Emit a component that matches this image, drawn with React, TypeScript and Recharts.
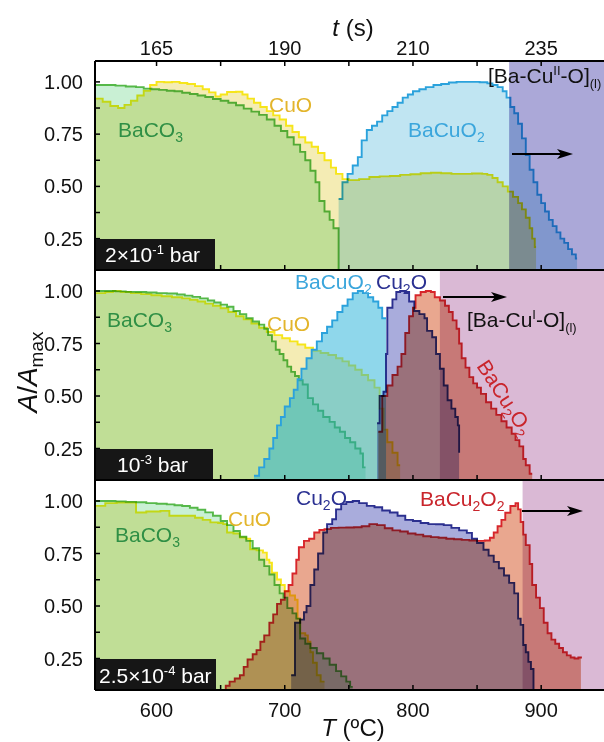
import React from 'react';
import { ComposedChart, Area, XAxis, YAxis, ReferenceArea } from 'recharts';

const FONT = '"Liberation Sans", Arial, Helvetica, sans-serif';
const W = 604;
const H = 742;

const T_DOMAIN: [number, number] = [552, 949];
const Y_DOMAIN: [number, number] = [0.1, 1.1];
const X_TICKS = [600, 650, 700, 750, 800, 850, 900];
const X_LABELS: Record<number, string> = { 600: '600', 700: '700', 800: '800', 900: '900' };
const TOP_LABELS: Record<number, string> = { 600: '165', 700: '190', 800: '210', 900: '235' };
const Y_TICKS = [0.25, 0.375, 0.5, 0.625, 0.75, 0.875, 1.0];
const Y_LABELS: Record<string, string> = { '0.25': '0.25', '0.5': '0.50', '0.75': '0.75', '1': '1.00' };

// ---------- Panel 1 : 2x10^-1 bar ----------
const P1_BACO3: [number, number][] = [
  [552, 0.985], [560, 0.985], [568, 0.982], [576, 0.978], [584, 0.975], [590, 0.968], [596, 0.965],
  [602, 0.962], [608, 0.958], [614, 0.955], [620, 0.948], [626, 0.942], [632, 0.935], [638, 0.928],
  [644, 0.918], [650, 0.91], [656, 0.9], [662, 0.888], [668, 0.872], [674, 0.858], [680, 0.842],
  [686, 0.82], [692, 0.79], [697, 0.765], [702, 0.735], [707, 0.7], [712, 0.665], [716, 0.625],
  [720, 0.575], [724, 0.52], [727, 0.43], [731, 0.38], [735, 0.34], [738, 0.3], [742, 0.1],
];
const P1_CUO: [number, number][] = [
  [552, 0.92], [558, 0.905], [564, 0.885], [570, 0.875], [575, 0.89], [580, 0.91], [585, 0.935],
  [590, 0.958], [595, 0.985], [600, 1.0], [606, 0.998], [612, 1.0], [618, 0.995], [624, 0.99],
  [630, 0.98], [636, 0.965], [641, 0.95], [646, 0.93], [650, 0.94], [655, 0.952], [662, 0.953],
  [667, 0.94], [671, 0.92], [676, 0.9], [681, 0.88], [686, 0.86], [691, 0.84], [696, 0.82],
  [701, 0.79], [706, 0.76], [711, 0.735], [716, 0.71], [721, 0.69], [726, 0.66], [731, 0.625],
  [736, 0.59], [740, 0.56], [745, 0.535], [750, 0.53], [758, 0.535], [766, 0.545], [774, 0.548],
  [782, 0.55], [790, 0.555], [798, 0.558], [806, 0.563], [814, 0.565], [822, 0.563], [830, 0.56],
  [838, 0.56], [846, 0.562], [854, 0.56], [858, 0.555], [862, 0.54], [866, 0.52], [870, 0.5],
  [874, 0.475], [878, 0.45], [882, 0.42], [885, 0.39], [888, 0.35], [891, 0.3], [893, 0.25],
  [895, 0.21], [896, 0.21],
];
const P1_BACUO2: [number, number][] = [
  [742, 0.44], [745, 0.52], [749, 0.56], [753, 0.6], [757, 0.64], [760, 0.72], [764, 0.77],
  [768, 0.79], [772, 0.81], [776, 0.84], [780, 0.86], [784, 0.88], [788, 0.9], [792, 0.925],
  [796, 0.94], [800, 0.955], [805, 0.965], [810, 0.975], [816, 0.985], [822, 0.99], [828, 0.997],
  [834, 1.0], [840, 1.0], [846, 1.0], [852, 0.998], [858, 0.993], [862, 0.985], [866, 0.975],
  [870, 0.955], [873, 0.925], [876, 0.88], [879, 0.85], [882, 0.8], [885, 0.73], [888, 0.65],
  [891, 0.58], [894, 0.52], [897, 0.46], [900, 0.42], [903, 0.38], [906, 0.34], [909, 0.31],
  [912, 0.28], [915, 0.25], [918, 0.23], [921, 0.2], [924, 0.175], [927, 0.155], [928, 0.155],
];
const P1_LIQUID: [number, number] = [875, 949];

// ---------- Panel 2 : 10^-3 bar ----------
const P2_BACO3: [number, number][] = [
  [552, 1.0], [560, 1.0], [568, 0.998], [576, 0.996], [584, 0.995], [592, 0.993], [600, 0.99],
  [608, 0.988], [616, 0.983], [622, 0.978], [628, 0.972], [634, 0.965], [640, 0.955], [645, 0.945],
  [650, 0.935], [655, 0.925], [660, 0.905], [665, 0.89], [670, 0.87], [675, 0.855], [680, 0.84],
  [684, 0.82], [687, 0.79], [690, 0.76], [693, 0.72], [696, 0.7], [699, 0.67], [702, 0.64],
  [705, 0.615], [708, 0.595], [711, 0.575], [714, 0.555], [718, 0.49], [722, 0.46], [726, 0.43],
  [730, 0.4], [735, 0.377], [739, 0.35], [743, 0.33], [747, 0.3], [751, 0.28], [755, 0.25],
  [759, 0.226], [761, 0.16], [763, 0.16],
];
const P2_CUO: [number, number][] = [
  [552, 0.99], [560, 0.995], [566, 1.0], [572, 0.995], [580, 0.99], [588, 0.985], [596, 0.98],
  [604, 0.975], [612, 0.97], [620, 0.965], [626, 0.958], [632, 0.95], [638, 0.94], [644, 0.93],
  [650, 0.918], [656, 0.9], [662, 0.88], [668, 0.865], [674, 0.845], [680, 0.825], [686, 0.805],
  [692, 0.79], [698, 0.775], [704, 0.76], [710, 0.745], [716, 0.73], [722, 0.715], [728, 0.705],
  [734, 0.695], [740, 0.68], [745, 0.665], [750, 0.645], [755, 0.625], [760, 0.6], [765, 0.575],
  [770, 0.54], [774, 0.44], [777, 0.34], [780, 0.28], [784, 0.23], [788, 0.17], [790, 0.17],
];
const P2_BACUO2: [number, number][] = [
  [676, 0.12], [680, 0.16], [684, 0.2], [688, 0.25], [691, 0.3], [694, 0.36], [697, 0.4],
  [700, 0.45], [704, 0.49], [707, 0.53], [710, 0.58], [713, 0.63], [717, 0.68], [721, 0.72],
  [725, 0.76], [729, 0.8], [733, 0.83], [737, 0.86], [741, 0.9], [745, 0.93], [749, 0.96],
  [753, 0.99], [757, 1.0], [761, 0.99], [765, 0.97], [769, 0.95], [773, 0.92], [776, 0.87],
  [779, 0.87],
];
const P2_CU2O: [number, number][] = [
  [772, 0.37], [774, 0.5], [777, 0.52], [779, 0.7], [780, 0.92], [784, 0.96], [787, 0.995],
  [790, 1.0], [794, 0.995], [797, 0.95], [801, 0.905], [805, 0.89], [809, 0.87], [811, 0.81],
  [815, 0.78], [818, 0.7], [821, 0.63], [824, 0.55], [827, 0.48], [830, 0.44], [833, 0.4],
  [835, 0.36], [836, 0.23],
];
const P2_BACU2O2: [number, number][] = [
  [773, 0.33], [776, 0.5], [780, 0.55], [784, 0.6], [788, 0.64], [791, 0.7], [794, 0.8],
  [797, 0.88], [800, 0.92], [802, 0.98], [806, 0.995], [810, 1.0], [814, 0.995], [817, 0.97],
  [821, 0.955], [825, 0.93], [828, 0.9], [831, 0.86], [834, 0.82], [836, 0.75], [838, 0.68],
  [841, 0.635], [844, 0.59], [847, 0.56], [850, 0.54], [853, 0.51], [857, 0.47], [861, 0.44],
  [865, 0.41], [869, 0.38], [873, 0.35], [877, 0.32], [880, 0.29], [883, 0.26], [886, 0.2],
  [888, 0.17], [891, 0.13], [893, 0.13],
];
const P2_LIQUID: [number, number] = [821, 949];

// ---------- Panel 3 : 2.5x10^-4 bar ----------
const P3_BACO3: [number, number][] = [
  [552, 1.0], [560, 1.0], [568, 0.998], [576, 0.996], [584, 0.994], [592, 0.99], [600, 0.987],
  [608, 0.984], [614, 0.98], [620, 0.976], [626, 0.968], [632, 0.958], [638, 0.946], [644, 0.93],
  [650, 0.905], [655, 0.885], [660, 0.857], [665, 0.83], [670, 0.81], [675, 0.775], [680, 0.72],
  [684, 0.69], [688, 0.65], [692, 0.6], [696, 0.56], [699, 0.54], [702, 0.49], [706, 0.465],
  [709, 0.44], [712, 0.345], [716, 0.32], [720, 0.3], [725, 0.275], [730, 0.25], [735, 0.22],
  [740, 0.19], [744, 0.165], [748, 0.14], [751, 0.115], [753, 0.115],
];
const P3_CUO: [number, number][] = [
  [552, 0.977], [560, 0.99], [569, 0.993], [577, 0.993], [584, 0.945], [592, 0.95], [603, 0.953],
  [610, 0.93], [618, 0.93], [624, 0.93], [630, 0.92], [636, 0.91], [642, 0.898], [648, 0.895],
  [652, 0.89], [655, 0.85], [660, 0.845], [665, 0.826], [670, 0.82], [673, 0.77], [678, 0.765],
  [683, 0.754], [686, 0.72], [688, 0.706], [690, 0.658], [694, 0.626], [697, 0.6], [700, 0.57],
  [704, 0.55], [708, 0.53], [710, 0.44], [712, 0.37], [716, 0.36], [718, 0.33], [720, 0.28],
  [722, 0.23], [725, 0.17], [728, 0.14], [731, 0.14],
];
const P3_CU2O: [number, number][] = [
  [705, 0.17], [708, 0.42], [712, 0.435], [715, 0.47], [717, 0.5], [720, 0.6], [723, 0.674],
  [726, 0.75], [730, 0.85], [733, 0.89], [737, 0.913], [740, 0.96], [744, 0.985], [748, 0.995],
  [753, 1.0], [758, 0.99], [764, 0.977], [770, 0.97], [776, 0.955], [782, 0.945], [788, 0.93],
  [794, 0.91], [800, 0.905], [806, 0.895], [812, 0.89], [818, 0.889], [824, 0.885], [830, 0.872],
  [836, 0.86], [842, 0.848], [846, 0.82], [850, 0.8], [855, 0.768], [859, 0.74], [863, 0.71],
  [867, 0.68], [871, 0.645], [875, 0.61], [879, 0.56], [882, 0.44], [884, 0.41], [886, 0.314],
  [888, 0.28], [890, 0.234], [892, 0.2], [894, 0.1],
];
const P3_BACU2O2: [number, number][] = [
  [650, 0.1], [654, 0.12], [657, 0.14], [661, 0.155], [665, 0.17], [668, 0.21], [671, 0.245],
  [675, 0.27], [678, 0.29], [681, 0.33], [684, 0.36], [688, 0.42], [691, 0.46], [694, 0.51],
  [697, 0.53], [700, 0.57], [703, 0.6], [706, 0.655], [709, 0.72], [711, 0.78], [715, 0.81],
  [719, 0.82], [723, 0.85], [727, 0.862], [731, 0.866], [736, 0.872], [742, 0.873], [748, 0.874],
  [754, 0.875], [760, 0.88], [766, 0.89], [772, 0.885], [778, 0.87], [784, 0.86], [790, 0.855],
  [796, 0.845], [802, 0.84], [808, 0.832], [814, 0.828], [820, 0.825], [826, 0.82], [832, 0.818],
  [838, 0.815], [844, 0.812], [850, 0.81], [856, 0.812], [860, 0.825], [863, 0.85], [866, 0.88],
  [869, 0.91], [872, 0.944], [876, 0.976], [880, 0.99], [882, 0.96], [884, 0.9], [886, 0.84],
  [888, 0.79], [891, 0.7], [893, 0.6], [896, 0.54], [899, 0.49], [902, 0.42], [905, 0.37],
  [908, 0.34], [911, 0.32], [914, 0.3], [917, 0.28], [920, 0.265], [923, 0.255], [926, 0.25],
  [929, 0.255], [931, 0.25],
];
const P3_LIQUID: [number, number] = [885.5, 949];

// ---------- colours ----------
const C = {
  baco3: { stroke: '#55b848', fill: '#c9f0d4', text: '#2f8f45' },
  cuo: { stroke: '#f6e51a', fill: '#f4ecb4', text: '#e3b52c' },
  bacuo2: { stroke: '#2ba2dc', fill: '#c0e5f2', text: '#3ba6dc' },
  cu2o: { stroke: '#2b2f8f', fill: '#a9acdc', text: '#2b3192' },
  bacu2o2: { stroke: '#d7262b', fill: '#e9a78f', text: '#c9252c' },
  liq1: '#aba8d8',
  liq2: '#dab9d5',
};

const toRows = (pts: [number, number][]) => pts.map(([T, v]) => ({ T, v }));

type SeriesDef = {
  key: string;
  pts: [number, number][];
  stroke: string;
  fill: string;
  opacity?: number;
  multiply?: boolean;
};

const renderBottomTick = (labels: boolean) => (p: any) => {
  const { x, y, payload } = p;
  const lab = labels ? X_LABELS[payload.value] : undefined;
  return (
    <g>
      <line x1={x} x2={x} y1={y} y2={y - 5} stroke="#000" strokeWidth={1.5} />
      {lab ? (
        <text x={x} y={y + 27} textAnchor="middle" fontSize={20} fontFamily={FONT} fill="#111">
          {lab}
        </text>
      ) : null}
    </g>
  );
};

const renderTopTick = (p: any) => {
  const { x, y, payload } = p;
  const lab = TOP_LABELS[payload.value];
  return (
    <g>
      <line x1={x} x2={x} y1={y} y2={y + 5} stroke="#000" strokeWidth={1.5} />
      {lab ? (
        <text x={x} y={y - 6} textAnchor="middle" fontSize={20} fontFamily={FONT} fill="#111">
          {lab}
        </text>
      ) : null}
    </g>
  );
};

const renderLeftTick = (p: any) => {
  const { x, y, payload } = p;
  const lab = Y_LABELS[String(payload.value)];
  return (
    <g>
      <line x1={x} x2={x + 5} y1={y} y2={y} stroke="#000" strokeWidth={1.5} />
      {lab ? (
        <text x={x - 12} y={y + 7} textAnchor="end" fontSize={20} fontFamily={FONT} fill="#111">
          {lab}
        </text>
      ) : null}
    </g>
  );
};

function Panel(props: {
  top: number;
  bottom: number;
  series: SeriesDef[];
  liquid: [number, number];
  liquidColor: string;
  topAxis?: boolean;
  bottomLabels?: boolean;
}) {
  const { top, bottom, series, liquid, liquidColor, topAxis, bottomLabels } = props;
  return (
    <div style={{ position: 'absolute', left: 0, top: 0, width: W, height: H }}>
      <ComposedChart
        width={W}
        height={H}
        margin={{ top: topAxis ? top - 1 : top, bottom: H - bottom - 1, left: 0, right: 0 }}
      >
        <XAxis
          xAxisId="b"
          type="number"
          dataKey="T"
          domain={T_DOMAIN}
          allowDataOverflow
          ticks={X_TICKS}
          interval={0}
          orientation="bottom"
          height={1}
          tickSize={0}
          tickMargin={0}
          tickLine={false}
          axisLine={{ stroke: '#000', strokeWidth: 2 }}
          tick={renderBottomTick(!!bottomLabels)}
        />
        {topAxis ? (
          <XAxis
            xAxisId="t"
            type="number"
            dataKey="T"
            domain={T_DOMAIN}
            allowDataOverflow
            ticks={X_TICKS}
            interval={0}
            orientation="top"
            height={1}
            tickSize={0}
            tickMargin={0}
            tickLine={false}
            axisLine={{ stroke: '#000', strokeWidth: 2 }}
            tick={renderTopTick}
          />
        ) : null}
        <YAxis
          type="number"
          domain={Y_DOMAIN}
          allowDataOverflow
          ticks={Y_TICKS}
          interval={0}
          width={95}
          tickSize={0}
          tickMargin={0}
          tickLine={false}
          axisLine={{ stroke: '#000', strokeWidth: 2 }}
          tick={renderLeftTick}
        />
        <ReferenceArea
          xAxisId="b"
          x1={liquid[0]}
          x2={liquid[1]}
          y1={Y_DOMAIN[0]}
          y2={Y_DOMAIN[1]}
          fill={liquidColor}
          fillOpacity={1}
          stroke="none"
          className="mb"
          ifOverflow="hidden"
        />
        {series.map((s) => (
          <Area
            key={s.key}
            xAxisId="b"
            data={toRows(s.pts)}
            dataKey="v"
            type="stepAfter"
            baseValue={Y_DOMAIN[0]}
            stroke={s.stroke}
            strokeWidth={1.9}
            fill={s.fill}
            fillOpacity={s.opacity ?? 1}
            className={s.multiply === false ? '' : 'mb'}
            isAnimationActive={false}
            dot={false}
            activeDot={false}
          />
        ))}
      </ComposedChart>
    </div>
  );
}

const Arrow = ({ x1, x2, y }: { x1: number; x2: number; y: number }) => (
  <g>
    <line x1={x1} x2={x2 - 6} y1={y} y2={y} stroke="#000" strokeWidth={2} />
    <polygon points={`${x2},${y} ${x2 - 16},${y - 5} ${x2 - 12},${y} ${x2 - 16},${y + 5}`} fill="#000" />
  </g>
);

export default function App() {
  const p1: SeriesDef[] = [
    { key: 'baco3', pts: P1_BACO3, stroke: C.baco3.stroke, fill: C.baco3.fill },
    { key: 'cuo', pts: P1_CUO, stroke: C.cuo.stroke, fill: C.cuo.fill },
    { key: 'bacuo2', pts: P1_BACUO2, stroke: C.bacuo2.stroke, fill: C.bacuo2.fill },
  ];
  const p2: SeriesDef[] = [
    { key: 'baco3', pts: P2_BACO3, stroke: C.baco3.stroke, fill: C.baco3.fill },
    { key: 'cuo', pts: P2_CUO, stroke: C.cuo.stroke, fill: C.cuo.fill },
    { key: 'bacuo2', pts: P2_BACUO2, stroke: C.bacuo2.stroke, fill: '#1fb0d8', opacity: 0.5, multiply: false },
    { key: 'cu2o', pts: P2_CU2O, stroke: C.cu2o.stroke, fill: C.cu2o.fill },
    { key: 'bacu2o2', pts: P2_BACU2O2, stroke: C.bacu2o2.stroke, fill: C.bacu2o2.fill },
  ];
  const p3: SeriesDef[] = [
    { key: 'baco3', pts: P3_BACO3, stroke: C.baco3.stroke, fill: C.baco3.fill },
    { key: 'cuo', pts: P3_CUO, stroke: C.cuo.stroke, fill: C.cuo.fill },
    { key: 'bacu2o2', pts: P3_BACU2O2, stroke: C.bacu2o2.stroke, fill: C.bacu2o2.fill },
    { key: 'cu2o', pts: P3_CU2O, stroke: C.cu2o.stroke, fill: C.cu2o.fill },
  ];

  const lab = { fontFamily: FONT, fontSize: 21 } as const;
  const SUB = 14;
  const SUP = 13;

  return (
    <div style={{ position: 'absolute', left: 0, top: 0, width: W, height: H, background: '#fff', overflow: 'hidden' }}>
      <style>{`.mb { mix-blend-mode: multiply; }`}</style>
      <Panel top={61} bottom={270} series={p1} liquid={P1_LIQUID} liquidColor={C.liq1} topAxis />
      <Panel top={270} bottom={480} series={p2} liquid={P2_LIQUID} liquidColor={C.liq2} />
      <Panel top={480} bottom={690} series={p3} liquid={P3_LIQUID} liquidColor={C.liq2} bottomLabels />

      <svg width={W} height={H} style={{ position: 'absolute', left: 0, top: 0, pointerEvents: 'none' }}>
        {/* axis titles */}
        <text x={353} y={36} fontSize={24} textAnchor="middle" fontFamily={FONT} fill="#111">
          <tspan fontStyle="italic">t</tspan> (s)
        </text>
        <text x={353} y={736} fontSize={24} textAnchor="middle" fontFamily={FONT} fill="#111">
          <tspan fontStyle="italic">T</tspan> (ºC)
        </text>
        <text transform="translate(37,372) rotate(-90)" fontSize={28} textAnchor="middle" fontFamily={FONT} fill="#111">
          <tspan fontStyle="italic">A</tspan>/<tspan fontStyle="italic">A</tspan>
          <tspan fontSize={19} dy={6}>max</tspan>
        </text>

        {/* panel 1 */}
        <text x={118} y={137} {...lab} fill={C.baco3.text}>
          BaCO<tspan fontSize={SUB} dy={5}>3</tspan>
        </text>
        <text x={269} y={112} {...lab} fill={C.cuo.text}>CuO</text>
        <text x={408} y={137} {...lab} fill={C.bacuo2.text}>
          BaCuO<tspan fontSize={SUB} dy={5}>2</tspan>
        </text>
        <text x={488} y={83} {...lab} fill="#111">
          [Ba-Cu<tspan fontSize={SUP} dy={-8}>II</tspan>
          <tspan dy={8}>-O]</tspan>
          <tspan fontSize={SUP} dy={5}>(l)</tspan>
        </text>
        <Arrow x1={512} x2={573} y={154} />
        <rect x={96} y={239} width={119} height={30} fill="#161616" />
        <text x={105} y={262} {...lab} fill="#fff">
          2×10<tspan fontSize={SUP} dy={-8}>-1</tspan>
          <tspan dy={8}> bar</tspan>
        </text>

        {/* panel 2 */}
        <text x={107} y={327} {...lab} fill={C.baco3.text}>
          BaCO<tspan fontSize={SUB} dy={5}>3</tspan>
        </text>
        <text x={267} y={331} {...lab} fill={C.cuo.text}>CuO</text>
        <text x={295} y={289} {...lab} fill={C.bacuo2.text}>
          BaCuO<tspan fontSize={SUB} dy={5}>2</tspan>
        </text>
        <text x={376} y={289} {...lab} fill={C.cu2o.text}>
          Cu<tspan fontSize={SUB} dy={5}>2</tspan>
          <tspan dy={-5}>O</tspan>
        </text>
        <Arrow x1={443} x2={507} y={297} />
        <text x={467} y={327} {...lab} fill="#111">
          [Ba-Cu<tspan fontSize={SUP} dy={-8}>I</tspan>
          <tspan dy={8}>-O]</tspan>
          <tspan fontSize={SUP} dy={5}>(l)</tspan>
        </text>
        <text x={476} y={366} {...lab} fill={C.bacu2o2.text} transform="rotate(57 476 366)">
          BaCu<tspan fontSize={SUB} dy={5}>2</tspan>
          <tspan dy={-5}>O</tspan>
          <tspan fontSize={SUB} dy={5}>2</tspan>
        </text>
        <rect x={96} y={449} width={117} height={30} fill="#161616" />
        <text x={117} y={472} {...lab} fill="#fff">
          10<tspan fontSize={SUP} dy={-8}>-3</tspan>
          <tspan dy={8}> bar</tspan>
        </text>

        {/* panel 3 */}
        <text x={115} y={542} {...lab} fill={C.baco3.text}>
          BaCO<tspan fontSize={SUB} dy={5}>3</tspan>
        </text>
        <text x={228} y={526} {...lab} fill={C.cuo.text}>CuO</text>
        <text x={296} y={505} {...lab} fill={C.cu2o.text}>
          Cu<tspan fontSize={SUB} dy={5}>2</tspan>
          <tspan dy={-5}>O</tspan>
        </text>
        <text x={420} y={506} {...lab} fill={C.bacu2o2.text}>
          BaCu<tspan fontSize={SUB} dy={5}>2</tspan>
          <tspan dy={-5}>O</tspan>
          <tspan fontSize={SUB} dy={5}>2</tspan>
        </text>
        <Arrow x1={522} x2={583} y={511} />
        <rect x={96} y={659} width={120} height={30} fill="#161616" />
        <text x={99} y={683} {...lab} fill="#fff">
          2.5×10<tspan fontSize={SUP} dy={-8}>-4</tspan>
          <tspan dy={8}> bar</tspan>
        </text>
      </svg>
    </div>
  );
}
